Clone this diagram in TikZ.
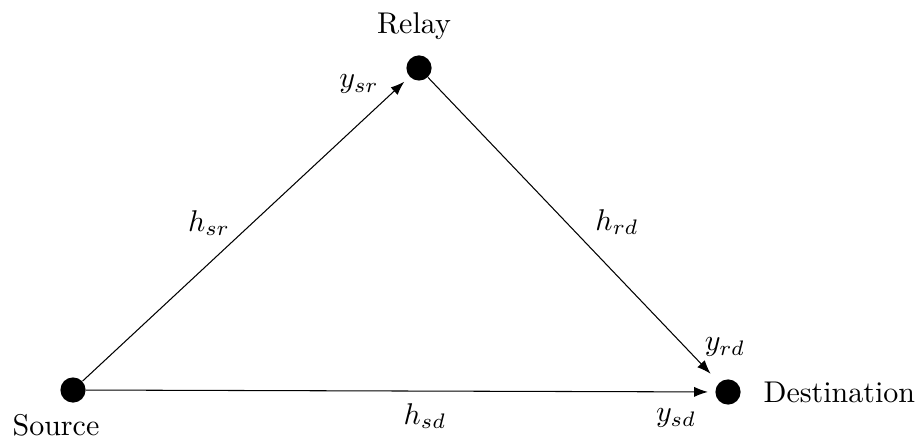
\documentclass[tikz,border=0pt]{standalone}
\usetikzlibrary{arrows.meta}
\begin{document}
\begin{tikzpicture}[x=0.3333pt,y=-0.3333pt,
  dot/.style={circle,fill=black,minimum size=8.4pt,inner sep=0pt},
  lbl/.style={inner sep=0pt},
  link/.style={line width=0.35pt,-{Latex[length=4.6pt,width=3.4pt]}}]
\useasboundingbox (0,0) rectangle (923,440);
\node[dot] (s) at (73,390) {};
\node[dot] (r) at (419,68) {};
\node[dot] (d) at (728,392) {};
\node[lbl] (sl) at (56,425) {Source};
\node[lbl] (rl) at (414,26) {Relay};
\node[lbl,anchor=west] (dl) at (763,392) {Destination};
\draw[link,shorten >=2.3pt] (s) -- (r);
\draw[link,shorten >=4pt] (r) -- (d);
\draw[link,shorten >=2.3pt] (s) -- (d);
\node[lbl] (hsr) at (209,223) {$h_{sr}$};
\node[lbl] (ysr) at (359,84) {$y_{sr}$};
\node[lbl] (hrd) at (617,222) {$h_{rd}$};
\node[lbl] (yrd) at (725,347) {$y_{rd}$};
\node[lbl] (hsd) at (425,416) {$h_{sd}$};
\node[lbl] (ysd) at (676,418) {$y_{sd}$};
\end{tikzpicture}
\end{document}
